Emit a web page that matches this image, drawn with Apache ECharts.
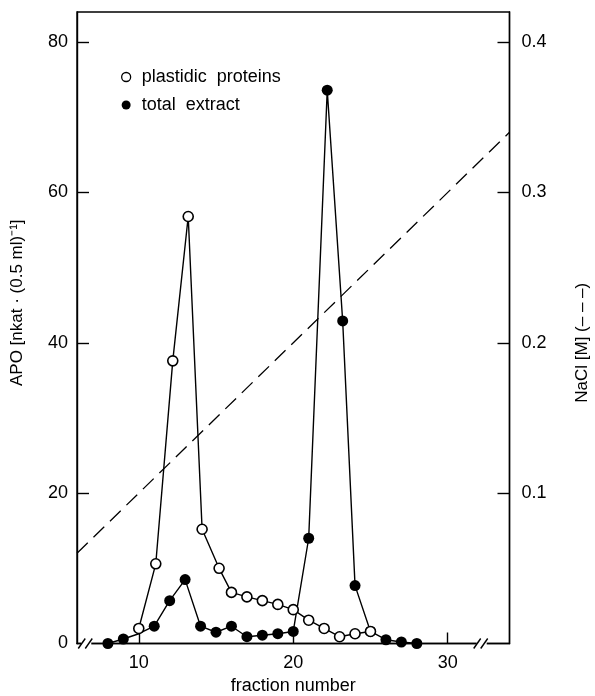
<!DOCTYPE html>
<html>
<head>
<meta charset="utf-8">
<script src="https://cdn.jsdelivr.net/npm/echarts@6/dist/echarts.min.js"></script>
<style>
  html, body { margin: 0; padding: 0; background: #fff; }
  #chart { width: 595px; height: 696px; }
</style>
</head>
<body>
<div id="chart"></div>
<script>
// fraction number / APO activity (nkat per 0.5 ml)
var plastidic = [
  [10, 2.0], [11.1, 10.6], [12.2, 37.6], [13.2, 56.8], [14.1, 15.2], [15.2, 10.0],
  [16, 6.8], [17, 6.2], [18, 5.7], [19, 5.2], [20, 4.5], [21, 3.1], [22, 2.0],
  [23, 0.9], [24, 1.3], [25, 1.6]
];
var totalExtract = [
  [8, 0], [9, 0.6], [10, 1.3], [11, 2.3], [12, 5.7], [13, 8.5], [14, 2.3], [15, 1.5],
  [16, 2.3], [17, 0.9], [18, 1.1], [19, 1.3], [20, 1.6], [21, 14.0], [22.2, 73.6],
  [23.2, 42.9], [24, 7.7], [25, 1.6], [26, 0.5], [27, 0.2], [28, 0]
];
// NaCl gradient (M)
var nacl = [[6, 0.06], [34, 0.34]];
// tick labels
var xTicks = [10, 20, 30];
var yLeftTicks = [0, 20, 40, 60, 80];
var yRightTicks = [0.1, 0.2, 0.3, 0.4];
// axis break marks on the fraction axis
var breakX = [6.6, 32.2];

var font = 'Liberation Sans';
var chart = echarts.init(document.getElementById('chart'));

chart.setOption({
  backgroundColor: '#fff',
  animation: false,
  textStyle: { fontFamily: font, color: '#000' },
  grid: {
    left: 77, right: 85.5, top: 12, bottom: 52.5,
    outerBoundsMode: 'none', containLabel: false,
    show: true, borderColor: '#000', borderWidth: 1.4
  },
  legend: {
    orient: 'vertical', left: 116, top: 63, itemGap: 10,
    itemWidth: 9, itemHeight: 9,
    textStyle: { fontFamily: font, fontSize: 18, color: '#000', lineHeight: 18, padding: [0, 0, 0, 6] },
    data: [
      { name: 'plastidic  proteins', icon: 'circle',
        itemStyle: { color: '#fff', borderColor: '#000', borderWidth: 1.3 } },
      { name: 'total  extract', icon: 'circle',
        itemStyle: { color: '#000', borderWidth: 0 } }
    ]
  },
  xAxis: {
    type: 'value', min: 6, max: 34,
    name: 'fraction number', nameLocation: 'middle', nameGap: 31,
    nameTextStyle: { fontFamily: font, fontSize: 18, color: '#000' },
    axisLine: { lineStyle: { color: '#000', width: 1.4 } },
    axisTick: { inside: true, length: 11, customValues: xTicks, lineStyle: { color: '#000', width: 1.4 } },
    axisLabel: { customValues: xTicks, margin: 11, fontSize: 18, color: '#000', fontFamily: font },
    splitLine: { show: false }
  },
  yAxis: [{
    type: 'value', min: 0, max: 84, position: 'left',
    name: 'APO [nkat · (0.5 ml)⁻¹]', nameLocation: 'middle', nameGap: 51, nameRotate: 90,
    nameTextStyle: { fontFamily: font, fontSize: 17, color: '#000', padding: [0, 0, 0, 50] },
    axisLine: { show: true, lineStyle: { color: '#000', width: 1.4 } },
    axisTick: { inside: true, length: 12, customValues: yLeftTicks.slice(1), lineStyle: { color: '#000', width: 1.4 } },
    axisLabel: { customValues: yLeftTicks, margin: 9, fontSize: 18, color: '#000', fontFamily: font },
    splitLine: { show: false }
  }, {
    type: 'value', min: 0, max: 0.42, position: 'right',
    name: 'NaCl [M] (– – –)', nameLocation: 'middle', nameGap: 64, nameRotate: 90,
    nameTextStyle: { fontFamily: font, fontSize: 17, color: '#000', padding: [0, 30, 0, 0] },
    axisLine: { show: true, lineStyle: { color: '#000', width: 1.4 } },
    axisTick: { inside: true, length: 12, customValues: yRightTicks, lineStyle: { color: '#000', width: 1.4 } },
    axisLabel: { customValues: yRightTicks, margin: 12, fontSize: 18, color: '#000', fontFamily: font },
    splitLine: { show: false }
  }],
  series: [{
    name: 'NaCl', type: 'line', yAxisIndex: 1, data: nacl, symbol: 'none',
    lineStyle: { color: '#000', width: 1.3, type: [15, 8] }, silent: true
  }, {
    name: 'total  extract', type: 'line', data: totalExtract.map(function (d) {
      // the fraction 10 point sits under the open circle
      return d[0] === 10 ? { value: d, symbol: 'none' } : d;
    }),
    symbol: 'circle', symbolSize: 11,
    itemStyle: { color: '#000' },
    lineStyle: { color: '#000', width: 1.4 }
  }, {
    name: 'plastidic  proteins', type: 'line', data: plastidic,
    symbol: 'circle', symbolSize: 10,
    itemStyle: { color: '#fff', borderColor: '#000', borderWidth: 1.6 },
    lineStyle: { color: '#000', width: 1.4 }
  }, {
    name: 'breaks', type: 'custom', silent: true, clip: false,
    data: breakX.map(function (v) { return [v, 0]; }),
    renderItem: function (params, api) {
      var p = api.coord([api.value(0), api.value(1)]);
      var st = { stroke: '#000', lineWidth: 1.4 };
      return {
        type: 'group', children: [
          { type: 'rect', shape: { x: p[0] - 5, y: p[1] - 2, width: 10, height: 4 }, style: { fill: '#fff' } },
          { type: 'line', shape: { x1: p[0] - 8, y1: p[1] + 5, x2: p[0] - 1, y2: p[1] - 5 }, style: st },
          { type: 'line', shape: { x1: p[0] - 1, y1: p[1] + 5, x2: p[0] + 6, y2: p[1] - 5 }, style: st }
        ]
      };
    }
  }]
});
</script>
</body>
</html>
